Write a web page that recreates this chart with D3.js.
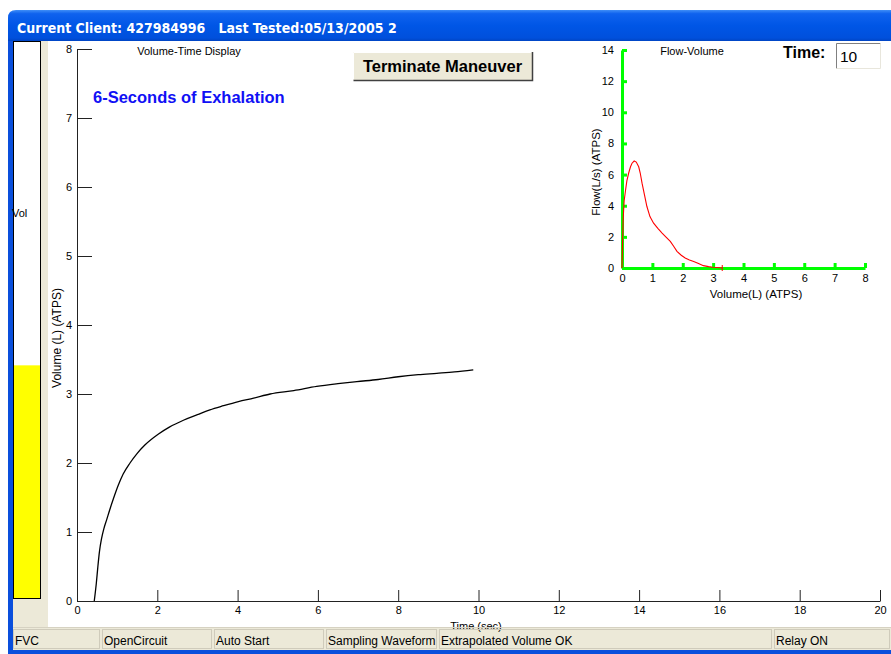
<!DOCTYPE html>
<html><head><meta charset="utf-8">
<script src="https://cdn.jsdelivr.net/npm/d3@7"></script>
<style>
html,body{margin:0;padding:0;background:#fff;overflow:hidden}
svg{display:block;font-family:"Liberation Sans",Arial,sans-serif}
</style></head><body>
<svg id="c" width="891" height="654"></svg>
<script>
// ---- data ----
const timeSec = [0.43,0.48,0.52,0.56,0.61,0.67,0.74,0.82,0.9,1.03,1.15,1.32,1.5,1.69,2.03,2.3,2.65,3.0,3.31,3.65,4.02,4.4,4.81,5.4,5.97,6.5,6.97,7.5,8.0,8.5,8.96,9.4,9.87];
const volumeL = [0,0.25,0.5,0.72,0.9,1.05,1.18,1.33,1.47,1.68,1.84,2.0,2.14,2.26,2.42,2.52,2.62,2.70,2.77,2.83,2.89,2.94,3.0,3.05,3.11,3.15,3.18,3.21,3.25,3.28,3.30,3.32,3.35];
const fvVolume = [0,0.02,0.04,0.07,0.11,0.16,0.22,0.28,0.33,0.4,0.47,0.55,0.6,0.66,0.74,0.82,0.92,1.04,1.18,1.32,1.45,1.59,1.7,1.81,1.95,2.08,2.22,2.36,2.5,2.68,2.85,3.0,3.15,3.3];
const fvFlow = [0,1.8,3.2,4.3,4.9,5.6,6.1,6.5,6.73,6.87,6.8,6.5,6.1,5.45,4.7,3.95,3.3,2.88,2.55,2.24,1.98,1.71,1.4,1.07,0.82,0.64,0.52,0.42,0.3,0.15,0.09,0.05,0.03,0];
const timeTicks = [0,2,4,6,8,10,12,14,16,18,20];
const volTicks = [0,1,2,3,4,5,6,7,8];
const fvXTicks = [0,1,2,3,4,5,6,7,8];
const fvYTicks = [0,2,4,6,8,10,12,14];
const statusItems = [
  {label:"FVC", x0:13, x1:101},
  {label:"OpenCircuit", x0:102, x1:213},
  {label:"Auto Start", x0:214, x1:325},
  {label:"Sampling Waveform", x0:326, x1:438},
  {label:"Extrapolated Volume OK", x0:439, x1:773},
  {label:"Relay ON", x0:774, x1:891}
];
const liveVolume = 3.35; // yellow bar level (L)
const titleText = "Current Client: 427984996   Last Tested:05/13/2005 2";

const svg = d3.select("#c");
const defs = svg.append("defs");
const g1 = defs.append("linearGradient").attr("id","tb").attr("x1",0).attr("y1",0).attr("x2",0).attr("y2",1);
[["0%","#3f8ef7"],["12%","#0f62ee"],["50%","#0056e6"],["90%","#0050dc"],["100%","#0045c4"]].forEach(s=>g1.append("stop").attr("offset",s[0]).attr("stop-color",s[1]));

// window frame
svg.append("path").attr("d","M8,41 L8,18 Q8,10 16,10 L891,10 L891,41 Z").attr("fill","url(#tb)");
svg.append("rect").attr("x",8).attr("y",41).attr("width",5).attr("height",613).attr("fill","#0a4fdc");
svg.append("rect").attr("x",8).attr("y",650).attr("width",883).attr("height",4).attr("fill","#0a4fdc");
svg.append("rect").attr("x",13).attr("y",41).attr("width",878).attr("height",609).attr("fill","#ece9d8");
// main white area
svg.append("rect").attr("x",48).attr("y",41).attr("width",843).attr("height",586).attr("fill","#fff");
svg.append("text").attr("x",17).attr("y",33).attr("fill","#fff").attr("font-weight","bold")
  .attr("font-size",14).attr("font-family","'DejaVu Sans Condensed','Liberation Sans',sans-serif")
  .style("white-space","pre").text(titleText);

// left volume bar
const barY = d3.scaleLinear().domain([0,8]).range([599,41]);
svg.append("rect").attr("x",13).attr("y",41).attr("width",28).attr("height",558).attr("fill","#fff");
svg.append("rect").attr("x",13).attr("y",barY(liveVolume)).attr("width",28).attr("height",599-barY(liveVolume)).attr("fill","#ffff00");
svg.append("rect").attr("x",13.5).attr("y",41.5).attr("width",27).attr("height",557).attr("fill","none").attr("stroke","#000");
svg.append("text").attr("x",12).attr("y",217).attr("font-size",11).text("Vol");

// ---- main chart ----
const x = d3.scaleLinear().domain([0,20]).range([77,880]);
const y = d3.scaleLinear().domain([0,8]).range([601,49]);
const gx = svg.append("g").attr("transform","translate(0,601)")
  .call(d3.axisBottom(x).tickValues(timeTicks).tickSizeInner(-11).tickSizeOuter(0).tickPadding(5).tickFormat(d3.format("d")));
const gy = svg.append("g").attr("transform","translate(77,0)")
  .call(d3.axisLeft(y).tickValues(volTicks).tickSizeInner(-15).tickSizeOuter(0).tickPadding(5).tickFormat(d3.format("d")));
[gx,gy].forEach(g=>{g.selectAll("path,line").attr("stroke","#222");g.selectAll("text").attr("font-size",11).attr("fill","#000").attr("font-family","'Liberation Sans',Arial,sans-serif");});
gy.select(".domain").attr("d","M0.5,"+y(8)+"V"+y(0));

svg.append("path").datum(timeSec.map((t,i)=>[t,volumeL[i]]))
  .attr("fill","none").attr("stroke","#000").attr("stroke-width",1.3)
  .attr("d",d3.line().x(d=>x(d[0])).y(d=>y(d[1])).curve(d3.curveMonotoneX));

svg.append("text").attr("x",189).attr("y",55).attr("text-anchor","middle").attr("font-size",11).text("Volume-Time Display");
svg.append("text").attr("x",93).attr("y",103).attr("font-size",16.5).attr("font-weight","bold").attr("fill","#1010f5").text("6-Seconds of Exhalation");
svg.append("text").attr("transform","translate(61,338) rotate(-90)").attr("text-anchor","middle").attr("font-size",12).text("Volume (L) (ATPS)");
svg.append("text").attr("x",476).attr("y",630).attr("text-anchor","middle").attr("font-size",11).text("Time (sec)");

// button
svg.append("rect").attr("x",353).attr("y",52).attr("width",179).attr("height",28).attr("fill","#ece9d8");
svg.append("path").attr("d","M353.5,79.5V52.5H531.5").attr("fill","none").attr("stroke","#fff");
svg.append("path").attr("d","M353.5,80.5H532.5V52").attr("fill","none").attr("stroke","#404040").attr("stroke-width",1.5);
svg.append("text").attr("x",442.5).attr("y",72).attr("text-anchor","middle").attr("font-size",16.5).attr("font-weight","bold").text("Terminate Maneuver");

// ---- inset flow-volume ----
const fx = d3.scaleLinear().domain([0,8]).range([622,865]);
const fy = d3.scaleLinear().domain([0,14]).range([268,50]);
const ix = svg.append("g").attr("transform","translate(0,268)")
  .call(d3.axisBottom(fx).tickValues(fvXTicks).tickSizeInner(-5).tickSizeOuter(0).tickPadding(6).tickFormat(d3.format("d")));
const iy = svg.append("g").attr("transform","translate(622,0)")
  .call(d3.axisLeft(fy).tickValues(fvYTicks).tickSizeInner(-5).tickSizeOuter(0).tickPadding(8).tickFormat(d3.format("d")));
[ix,iy].forEach(g=>{g.select(".domain").attr("stroke","#00ff00").attr("stroke-width",3);
  g.selectAll("line").attr("stroke","#00ff00").attr("stroke-width",3);
  g.selectAll("text").attr("font-size",11).attr("fill","#000").attr("font-family","'Liberation Sans',Arial,sans-serif");});
svg.append("path").datum(fvVolume.map((v,i)=>[v,fvFlow[i]]))
  .attr("fill","none").attr("stroke","#ff0000").attr("stroke-width",1.1)
  .attr("d",d3.line().x(d=>fx(d[0])).y(d=>fy(d[1])));
svg.append("path").attr("d",`M${fx(3.3)},${fy(0)-3}V${fy(0)+3}`).attr("stroke","#ff0000");
svg.append("text").attr("x",692).attr("y",55).attr("text-anchor","middle").attr("font-size",11).text("Flow-Volume");
svg.append("text").attr("transform","translate(600,172) rotate(-90)").attr("text-anchor","middle").attr("font-size",11.5).text("Flow(L/s) (ATPS)");
svg.append("text").attr("x",756).attr("y",298).attr("text-anchor","middle").attr("font-size",11.5).text("Volume(L) (ATPS)");

// Time box
svg.append("text").attr("x",783).attr("y",58).attr("font-size",16).attr("font-weight","bold").text("Time:");
svg.append("rect").attr("x",836).attr("y",43).attr("width",45).attr("height",26).attr("fill","#fff");
svg.append("path").attr("d","M836.5,68.5V43.5H880.5").attr("fill","none").attr("stroke","#808080");
svg.append("path").attr("d","M836.5,68.5H880.5V43.5").attr("fill","none").attr("stroke","#e8e6dc");
svg.append("text").attr("x",840).attr("y",62).attr("font-size",15.5).text("10");

// status bar
svg.append("line").attr("x1",13).attr("x2",891).attr("y1",627.5).attr("y2",627.5).attr("stroke","#d6d2c2");
const sb = svg.append("g").selectAll("g").data(statusItems).join("g");
sb.append("rect").attr("x",d=>d.x0+0.5).attr("y",629.5).attr("width",d=>d.x1-d.x0-2).attr("height",19).attr("fill","none").attr("stroke","#cfcbbb");
sb.append("text").attr("x",d=>d.x0+2).attr("y",645).attr("font-size",12).attr("font-family","'Liberation Sans',Arial,sans-serif").text(d=>d.label);
</script></body></html>
